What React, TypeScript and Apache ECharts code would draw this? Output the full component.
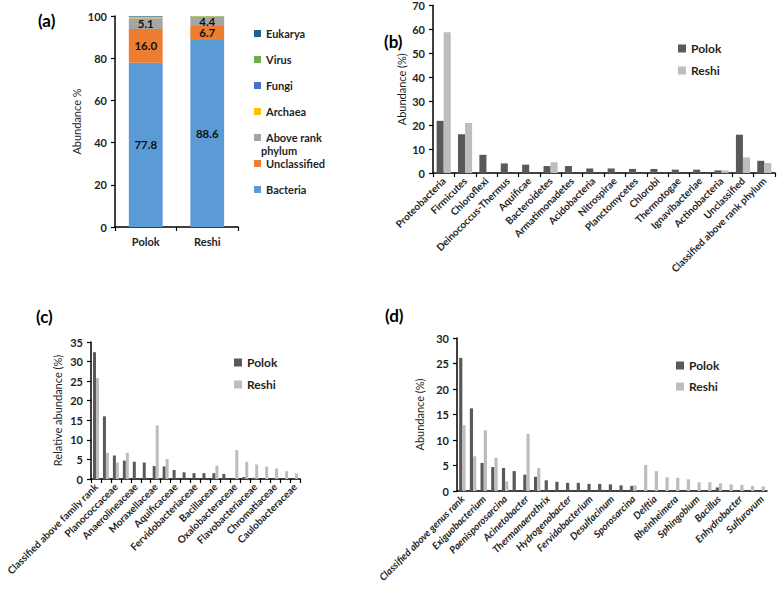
import React, { useEffect, useRef } from "react";
import * as echarts from "echarts";

// ---------- Panel (a) ----------
const aSamples = ["Polok", "Reshi"];
const aBacteria = [77.8, 88.6];
const aUnclassified = [16.0, 6.7];
const aAboveRank = [5.1, 4.4];
const aArchaea = [0.6, 0.05];
const aFungi = [0.2, 0.05];
const aVirus = [0.1, 0.2];
const aEukarya = [0.2, 0.05];
const aYTicks = [0, 20, 40, 60, 80, 100];

// ---------- Panel (b) ----------
const bPhyla = [
  "Proteobacteria", "Firmicutes", "Chloroflexi", "Deinococcus-Thermus", "Aquificae",
  "Bacteroidetes", "Armatimonadetes", "Acidobacteria", "Nitrospirae", "Planctomycetes",
  "Chlorobi", "Thermotogae", "Ignavibacteriae", "Actinobacteria", "Unclassified",
  "Classified above rank phylum",
];
const bPolok = [21.8, 16.2, 7.6, 4.0, 3.5, 2.9, 2.9, 1.9, 1.9, 1.7, 1.7, 1.4, 1.4, 1.1, 16.0, 5.1];
const bReshi = [58.8, 20.9, 0, 0, 0, 4.5, 0, 0, 0, 0, 0, 0, 0, 1.1, 6.5, 4.2];

// ---------- Panel (c) ---------- (only every other family name is printed)
const cFamilies = [
  "Classified above family rank", "", "Planococcaceae", "", "Anaerolineaceae", "",
  "Moraxellaceae", "", "Aquificaceae", "", "Fervidobacteriaceae", "", "Bacillaceae", "",
  "Oxalobacteraceae", "", "Flavobacteriaceae", "", "Chromatiaceae", "", "Caulobacteraceae",
];
const cPolok = [32.4, 16.0, 6.0, 4.7, 4.4, 4.2, 3.3, 3.2, 2.3, 1.7, 1.5, 1.5, 1.5, 1.3, 0, 0.5, 0.3, 0, 0, 0, 0];
const cReshi = [25.8, 6.7, 4.2, 6.7, 0, 0, 13.7, 5.1, 0, 0, 0, 0, 3.4, 0, 7.4, 4.4, 3.7, 3.2, 2.7, 2.0, 1.4];

// ---------- Panel (d) ---------- (only every other genus name is printed)
const dGenera = [
  "Classified above genus rank", "", "Exiguobacterium", "", "Paenisporosarcina", "",
  "Acinetobacter", "", "Thermanaerothrix", "", "Hydrogenobacter", "", "Fervidobacterium", "",
  "Desulfacinum", "", "Sporosarcina", "", "Delftia", "", "Rheinheimera", "", "Sphingobium", "",
  "Bacillus", "", "Enhydrobacter", "", "Sulfurovum",
];
const dPolok = [26.1, 16.2, 5.5, 4.7, 4.5, 3.9, 3.2, 2.8, 2.1, 1.8, 1.6, 1.6, 1.4, 1.4, 1.3, 1.1, 1.0, 0, 0.2, 0, 0, 0, 0, 0, 0.7, 0, 0, 0, 0];
const dReshi = [12.9, 6.8, 11.9, 6.5, 1.9, 0, 11.2, 4.5, 0, 0, 0, 0, 0, 0, 0, 0, 1.1, 5.1, 3.9, 2.7, 2.6, 2.3, 1.7, 1.7, 1.5, 1.3, 1.2, 1.0, 0.9];

const FONT = "Lato, 'DejaVu Sans', sans-serif";
const POLOK = "#595959";
const RESHI = "#bdbdbd";
const TXT = "#1f1f1f";

export default function App() {
  const ref = useRef<HTMLDivElement>(null);
  useEffect(() => {
    document.body.style.margin = "0";
    if (!ref.current) return;
    const chart = echarts.init(ref.current, undefined, { renderer: "svg" });

    const axisLine = { show: true, lineStyle: { color: "#000", width: 1.5 } };
    const yAxisBase = (gridIndex: number, max: number, interval: number, name: string, nameGap: number) => ({
      type: "value",
      gridIndex,
      min: 0,
      max,
      interval,
      name,
      nameLocation: "middle",
      nameGap,
      nameTextStyle: { fontFamily: FONT, fontSize: 11, color: TXT },
      axisLine,
      axisTick: { show: true, length: 4, lineStyle: { color: "#000", width: 1.2 } },
      splitLine: { show: false },
      axisLabel: { fontFamily: FONT, fontSize: 11, fontWeight: "bold", color: TXT, margin: 8 },
    });
    const xCat = (gridIndex: number, data: string[], italic: boolean, ticks: boolean) => ({
      type: "category",
      gridIndex,
      data,
      axisLine,
      axisTick: { show: ticks, interval: 0, length: 4, lineStyle: { color: "#000", width: 1.2 } },
      axisLabel: {
        interval: 0,
        rotate: 45,
        margin: 6,
        fontFamily: FONT,
        fontSize: 10,
        fontWeight: "bold",
        fontStyle: italic ? "italic" : "normal",
        color: TXT,
      },
    });

    const bar = (name: string, data: number[], idx: number, color: string, gap: string) => ({
      type: "bar",
      name,
      data,
      xAxisIndex: idx,
      yAxisIndex: idx,
      barGap: "0%",
      barCategoryGap: gap,
      itemStyle: { color },
    });

    const stackLabel = {
      show: true,
      position: "inside",
      fontFamily: FONT,
      fontSize: 11.5,
      lineHeight: 11,
      fontWeight: "bold",
      color: "#111",
      formatter: (p: any) => Number(p.value).toFixed(1),
    };
    const stacked = (name: string, data: number[], color: string, label?: any) => ({
      type: "bar",
      name,
      data,
      stack: "a",
      xAxisIndex: 0,
      yAxisIndex: 0,
      barCategoryGap: "45%",
      itemStyle: { color },
      label: label || { show: false },
    });

    const legendText = { fontFamily: FONT, fontSize: 11, fontWeight: "bold", color: TXT, lineHeight: 13 };
    const pairLegend = (left: number, top: number, gap: number) => ({
      data: ["Polok", "Reshi"],
      orient: "vertical",
      left,
      top,
      itemWidth: 8,
      itemHeight: 8,
      itemGap: gap,
      icon: "rect",
      selectedMode: false,
      textStyle: { ...legendText, fontSize: 12 },
    });

    chart.setOption({
      animation: false,
      grid: [
        { left: 115, top: 16, width: 123, height: 211 },
        { left: 433, top: 5, width: 342, height: 168 },
        { left: 91, top: 342, width: 209, height: 137 },
        { left: 457, top: 338, width: 310, height: 153 },
      ],
      xAxis: [
        {
          type: "category",
          gridIndex: 0,
          data: aSamples,
          axisLine,
          axisTick: { show: true, length: 4, lineStyle: { color: "#000", width: 1.2 } },
          axisLabel: { fontFamily: FONT, fontSize: 11, fontWeight: "bold", color: TXT, margin: 9 },
        },
        xCat(1, bPhyla, false, true),
        xCat(2, cFamilies, false, true),
        xCat(3, dGenera, true, false),
      ],
      yAxis: [
        { ...yAxisBase(0, aYTicks[aYTicks.length - 1], aYTicks[1] - aYTicks[0], "Abundance %", 33) },
        yAxisBase(1, 70, 10, "Abundance (%)", 26),
        yAxisBase(2, 35, 5, "Relative abundance (%)", 28),
        yAxisBase(3, 30, 5, "Abundance (%)", 32),
      ],
      legend: [
        {
          data: ["Eukarya", "Virus", "Fungi", "Archaea", "Above rank phylum"],
          orient: "vertical",
          left: 249,
          top: 22,
          itemWidth: 7,
          itemHeight: 7,
          itemGap: 13,
          icon: "rect",
          selectedMode: false,
          formatter: (n: string) => (n === "Above rank phylum" ? "Above rank" : n),
          textStyle: legendText,
        },
        {
          data: ["Unclassified", "Bacteria"],
          orient: "vertical",
          left: 249,
          top: 152,
          itemWidth: 7,
          itemHeight: 7,
          itemGap: 13,
          icon: "rect",
          selectedMode: false,
          textStyle: legendText,
        },
        pairLegend(673, 37, 9),
        pairLegend(229, 351, 9),
        pairLegend(671, 354, 8),
      ],
      graphic: [
        { type: "text", left: 261, top: 145, style: { text: "phylum", font: `bold 11px ${FONT}`, fill: TXT } },
        { type: "text", left: 38, top: 12, style: { text: "(a)", font: `bold 17px ${FONT}`, fill: "#000" } },
        { type: "text", left: 384, top: 33, style: { text: "(b)", font: `bold 17px ${FONT}`, fill: "#000" } },
        { type: "text", left: 36, top: 308, style: { text: "(c)", font: `bold 17px ${FONT}`, fill: "#000" } },
        { type: "text", left: 385, top: 307, style: { text: "(d)", font: `bold 17px ${FONT}`, fill: "#000" } },
      ],
      series: [
        stacked("Bacteria", aBacteria, "#5b9bd5", stackLabel),
        stacked("Unclassified", aUnclassified, "#ed7d31", stackLabel),
        stacked("Above rank phylum", aAboveRank, "#a5a5a5", stackLabel),
        stacked("Archaea", aArchaea, "#ffc000"),
        stacked("Fungi", aFungi, "#4472c4"),
        stacked("Virus", aVirus, "#70ad47"),
        stacked("Eukarya", aEukarya, "#255e91"),
        bar("Polok", bPolok, 1, POLOK, "34%"),
        bar("Reshi", bReshi, 1, RESHI, "34%"),
        bar("Polok", cPolok, 2, POLOK, "40%"),
        bar("Reshi", cReshi, 2, RESHI, "40%"),
        bar("Polok", dPolok, 3, POLOK, "40%"),
        bar("Reshi", dReshi, 3, RESHI, "40%"),
      ],
    });
    return () => chart.dispose();
  }, []);
  return <div ref={ref} style={{ width: 778, height: 598 }} />;
}
